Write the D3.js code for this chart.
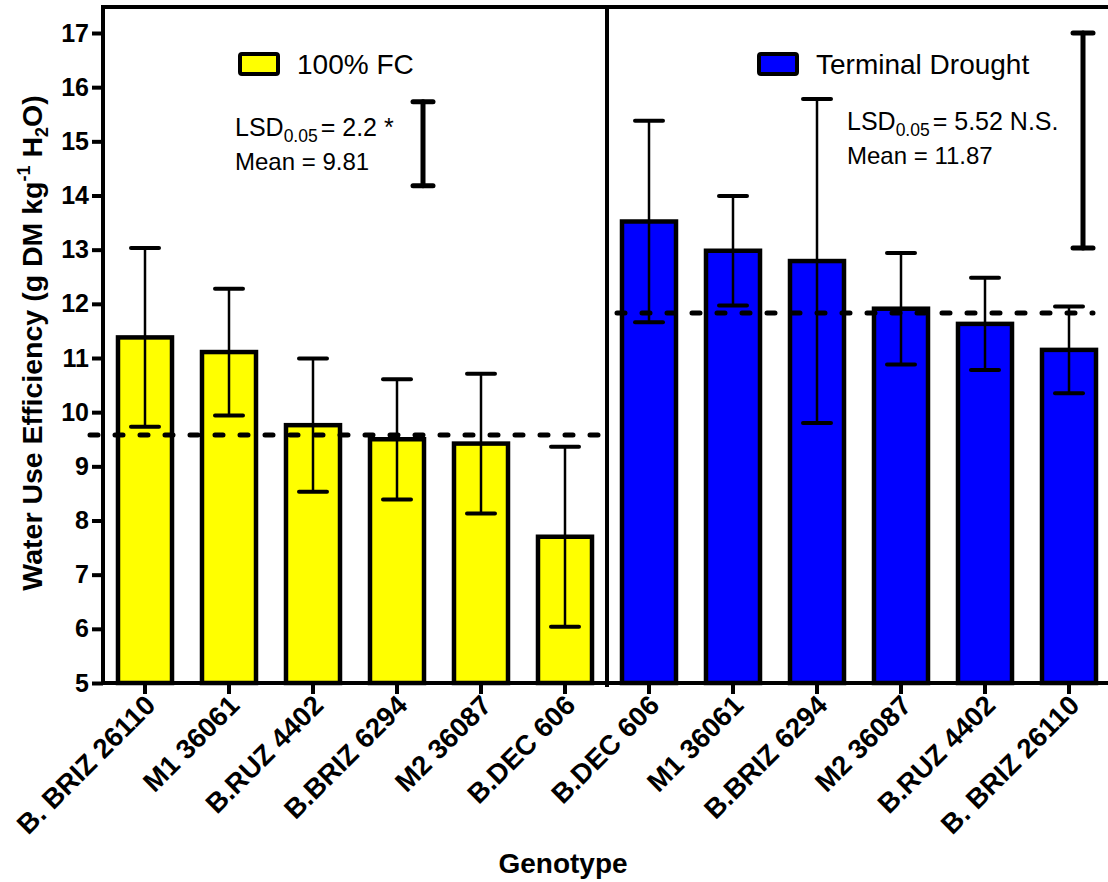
<!DOCTYPE html>
<html>
<head>
<meta charset="utf-8">
<script src="https://cdn.jsdelivr.net/npm/d3@7"></script>
<style>
    body { margin: 0; background: #fff; }
    text { font-family: "Liberation Sans", Arial, sans-serif; }
</style>
</head>
<body>
<script>
    // 100% field capacity
    const genotypesFC = ['B. BRIZ 26110', 'M1 36061', 'B.RUZ 4402', 'B.BRIZ 6294', 'M2 36087', 'B.DEC 606'];
    const wueFC = [11.38, 11.11, 9.76, 9.50, 9.42, 7.70];
    const errFC = [1.65, 1.17, 1.23, 1.11, 1.29, 1.66];
    const meanLineFC = 9.58;
    const lsdBarFC = [14.18, 15.73];

    // terminal drought
    const genotypesTD = ['B.DEC 606', 'M1 36061', 'B.BRIZ 6294', 'M2 36087', 'B.RUZ 4402', 'B. BRIZ 26110'];
    const wueTD = [13.52, 12.98, 12.79, 11.91, 11.63, 11.15];
    const errTD = [1.86, 1.01, 2.99, 1.03, 0.85, 0.80];
    const meanLineTD = 11.83;
    const lsdBarTD = [13.03, 17.0];

    const yTicks = [5, 6, 7, 8, 9, 10, 11, 12, 13, 14, 15, 16, 17];

    const measurements = {
        width: 1108,
        height: 882,
        left: 103,
        right: 1111,
        top: 33,
        bottom: 683
    };

    let svg = d3.select('body')
        .append('svg')
        .attr('width', measurements.width)
        .attr('height', measurements.height);

    // one row per bar, both panels side by side
    let rows = [];
    genotypesFC.forEach((g, i) => rows.push({key: 'fc' + i, name: g, value: wueFC[i], err: errFC[i], fill: '#ffff00'}));
    genotypesTD.forEach((g, i) => rows.push({key: 'td' + i, name: g, value: wueTD[i], err: errTD[i], fill: '#0000ff'}));

    let x = d3.scaleBand()
        .domain(rows.map(d => d.key))
        .range([measurements.left, measurements.right])
        .paddingInner(0.357)
        .paddingOuter(0.1785);

    let y = d3.scaleLinear()
        .domain([5, 17])
        .range([measurements.bottom, measurements.top]);

    let cx = d => x(d.key) + x.bandwidth() / 2;
    let divider = (x('fc5') + x.bandwidth() + x('td0')) / 2;

    // bars
    svg.append('g').selectAll('rect')
        .data(rows)
        .enter()
        .append('rect')
        .attr('x', d => x(d.key))
        .attr('y', d => y(d.value))
        .attr('width', x.bandwidth())
        .attr('height', d => y(5) - y(d.value))
        .attr('fill', d => d.fill)
        .attr('stroke', '#000')
        .attr('stroke-width', 4.5);

    // mean lines
    let dashed = svg.append('g')
        .attr('stroke', '#000')
        .attr('stroke-width', 5)
        .attr('stroke-linecap', 'round')
        .attr('stroke-dasharray', '8,17');
    dashed.append('line')
        .attr('x1', 90).attr('x2', divider - 8)
        .attr('y1', y(meanLineFC)).attr('y2', y(meanLineFC));
    dashed.append('line')
        .attr('x1', divider + 10).attr('x2', 1093)
        .attr('y1', y(meanLineTD)).attr('y2', y(meanLineTD));

    // error bars
    let errs = svg.append('g').attr('stroke', '#000');
    errs.selectAll('.stem')
        .data(rows)
        .enter()
        .append('line')
        .attr('x1', cx).attr('x2', cx)
        .attr('y1', d => y(d.value - d.err))
        .attr('y2', d => y(d.value + d.err))
        .attr('stroke-width', 2.5);
    errs.selectAll('.cap')
        .data(rows.flatMap(d => [{c: cx(d), v: d.value - d.err}, {c: cx(d), v: d.value + d.err}]))
        .enter()
        .append('line')
        .attr('x1', d => d.c - 14).attr('x2', d => d.c + 14)
        .attr('y1', d => y(d.v)).attr('y2', d => y(d.v))
        .attr('stroke-width', 4)
        .attr('stroke-linecap', 'round');

    // LSD bars
    let lsd = [{c: 423, v: lsdBarFC}, {c: 1083, v: lsdBarTD}];
    lsd.forEach(d => {
        let g = svg.append('g').attr('stroke', '#000').attr('stroke-width', 5).attr('stroke-linecap', 'round');
        g.append('line').attr('x1', d.c).attr('x2', d.c).attr('y1', y(d.v[0])).attr('y2', y(d.v[1]));
        d.v.forEach(v => g.append('line').attr('x1', d.c - 10).attr('x2', d.c + 10).attr('y1', y(v)).attr('y2', y(v)));
    });

    // frame: axes, top line, panel divider
    let frame = svg.append('g').attr('stroke', '#000').attr('stroke-width', 4);
    frame.append('line').attr('x1', measurements.left).attr('x2', measurements.left).attr('y1', 5).attr('y2', measurements.bottom + 2);
    frame.append('line').attr('x1', measurements.left - 2).attr('x2', measurements.width).attr('y1', 7).attr('y2', 7);
    frame.append('line').attr('x1', measurements.left - 2).attr('x2', measurements.width).attr('y1', measurements.bottom).attr('y2', measurements.bottom);
    frame.append('line').attr('x1', divider).attr('x2', divider).attr('y1', 5).attr('y2', measurements.bottom + 4);

    // y axis
    let yAxis = svg.append('g')
        .attr('transform', 'translate(' + measurements.left + ',0)')
        .call(d3.axisLeft(y).tickValues(yTicks).tickFormat(d3.format('d')).tickSize(11).tickPadding(3));
    yAxis.select('.domain').remove();
    yAxis.selectAll('line').attr('stroke-width', 4);
    yAxis.selectAll('text')
        .attr('font-family', '"Liberation Sans", Arial, sans-serif')
        .attr('font-size', 25)
        .attr('font-weight', 'bold')
        .attr('fill', '#000');

    // x axis
    let xAxis = svg.append('g')
        .attr('transform', 'translate(0,' + measurements.bottom + ')')
        .call(d3.axisBottom(x).tickFormat((k, i) => rows[i].name).tickSize(11).tickPadding(0));
    xAxis.select('.domain').remove();
    xAxis.selectAll('line').attr('stroke-width', 4);
    xAxis.selectAll('text')
        .attr('font-family', '"Liberation Sans", Arial, sans-serif')
        .attr('font-size', 27.5)
        .attr('font-weight', 'bold')
        .attr('fill', '#000')
        .attr('text-anchor', 'end')
        .attr('dy', null)
        .attr('y', 0)
        .attr('transform', 'translate(12,24) rotate(-45)');

    // legends
    let legends = [
        {x: 240, label: '100% FC', fill: '#ffff00'},
        {x: 759, label: 'Terminal Drought', fill: '#0000ff'}
    ];
    legends.forEach(l => {
        svg.append('rect').attr('x', l.x).attr('y', 54).attr('width', 38).attr('height', 20)
            .attr('rx', 2).attr('fill', l.fill).attr('stroke', '#000').attr('stroke-width', 4);
        svg.append('text').attr('x', l.x + 57).attr('y', 74).attr('font-size', 28).text(l.label);
    });

    // LSD / mean notes
    let notes = [
        {x: 235, y: 136, lsd: '= 2.2 *', mean: 'Mean = 9.81'},
        {x: 847, y: 130, lsd: '= 5.52 N.S.', mean: 'Mean = 11.87'}
    ];
    notes.forEach(n => {
        let t = svg.append('text').attr('x', n.x).attr('y', n.y).attr('font-size', 25);
        t.append('tspan').text('LSD');
        t.append('tspan').attr('font-size', 17.5).attr('dy', 6).text('0.05');
        t.append('tspan').attr('dy', -6).attr('dx', 3).text(n.lsd);
        svg.append('text').attr('x', n.x).attr('y', n.y + 34).attr('font-size', 24).text(n.mean);
    });

    // axis titles
    let yTitle = svg.append('text')
        .attr('transform', 'translate(42,343) rotate(-90)')
        .attr('text-anchor', 'middle')
        .attr('font-size', 28.5)
        .attr('font-weight', 'bold');
    yTitle.append('tspan').text('Water Use Efficiency (g DM kg');
    yTitle.append('tspan').attr('font-size', 18).attr('dy', -12).text('-1');
    yTitle.append('tspan').attr('dy', 12).text(' H');
    yTitle.append('tspan').attr('font-size', 18).attr('dy', 6).text('2');
    yTitle.append('tspan').attr('dy', -6).text('O)');

    svg.append('text')
        .attr('x', 563)
        .attr('y', 873)
        .attr('text-anchor', 'middle')
        .attr('font-size', 28)
        .attr('font-weight', 'bold')
        .text('Genotype');
</script>
</body>
</html>
